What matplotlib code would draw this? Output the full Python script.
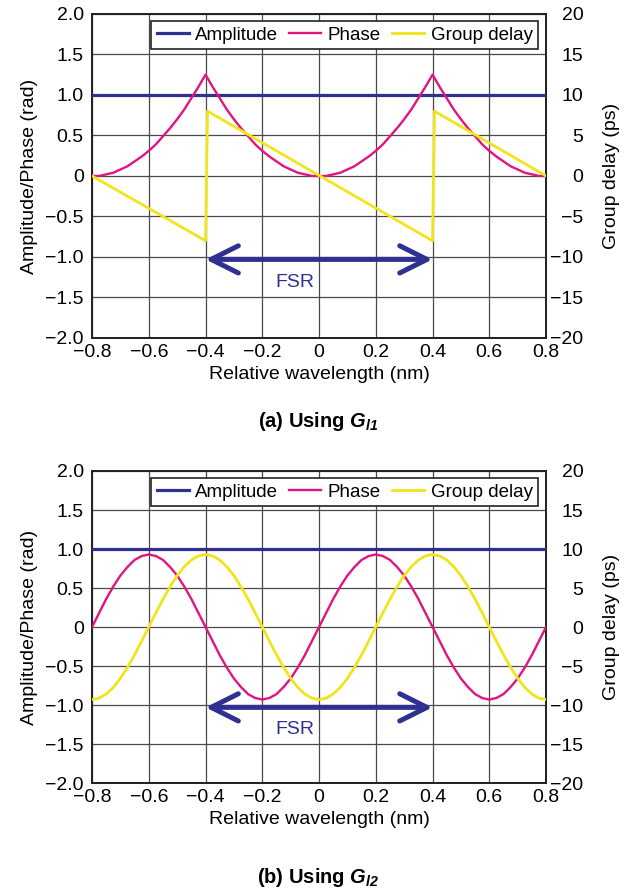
import matplotlib
matplotlib.use("Agg")
import matplotlib.pyplot as plt
import numpy as np

plt.rcParams['font.family'] = ['Liberation Sans', 'DejaVu Sans']
plt.rcParams['mathtext.fontset'] = 'custom'
plt.rcParams['mathtext.rm'] = 'Liberation Sans'
plt.rcParams['mathtext.it'] = 'Liberation Sans:italic'
plt.rcParams['mathtext.bf'] = 'Liberation Sans:bold'
plt.rcParams['mathtext.bfit'] = 'Liberation Sans:italic:bold'

# --- data ---
wavelength = np.linspace(-0.8, 0.8, 65)   # nm, sample grid (step 0.025)
amplitude = [1.0] * 65

# (a) quadratic phase, sawtooth group delay
phase_a = [0.00, 0.00, 0.02, 0.04, 0.08, 0.12, 0.18, 0.24, 0.31, 0.39, 0.49, 0.59, 0.70, 0.82, 0.96, 1.10, 1.25,
           1.10, 0.96, 0.82, 0.70, 0.59, 0.49, 0.39, 0.31, 0.24, 0.18, 0.12, 0.08, 0.04, 0.02, 0.00, 0.00,
           0.00, 0.02, 0.04, 0.08, 0.12, 0.18, 0.24, 0.31, 0.39, 0.49, 0.59, 0.70, 0.82, 0.96, 1.10, 1.25,
           1.10, 0.96, 0.82, 0.70, 0.59, 0.49, 0.39, 0.31, 0.24, 0.18, 0.12, 0.08, 0.04, 0.02, 0.00, 0.00]
gd_a_x = [-0.8, -0.4, -0.393, 0.4, 0.407, 0.8]
gd_a = [0.0, -8.0, 8.0, -8.0, 8.0, 0.0]   # ps

# (b) sinusoidal phase and group delay
phase_b = [0.00, 0.18, 0.36, 0.52, 0.66, 0.77, 0.86, 0.91, 0.93, 0.91, 0.86, 0.77, 0.66, 0.52, 0.36, 0.18,
           0.00, -0.18, -0.36, -0.52, -0.66, -0.77, -0.86, -0.91, -0.93, -0.91, -0.86, -0.77, -0.66, -0.52, -0.36, -0.18,
           0.00, 0.18, 0.36, 0.52, 0.66, 0.77, 0.86, 0.91, 0.93, 0.91, 0.86, 0.77, 0.66, 0.52, 0.36, 0.18,
           0.00, -0.18, -0.36, -0.52, -0.66, -0.77, -0.86, -0.91, -0.93, -0.91, -0.86, -0.77, -0.66, -0.52, -0.36, -0.18,
           0.00]
gd_b = [-9.30, -9.12, -8.59, -7.73, -6.58, -5.17, -3.56, -1.81, 0.00, 1.81, 3.56, 5.17, 6.58, 7.73, 8.59, 9.12,
        9.30, 9.12, 8.59, 7.73, 6.58, 5.17, 3.56, 1.81, 0.00, -1.81, -3.56, -5.17, -6.58, -7.73, -8.59, -9.12,
        -9.30, -9.12, -8.59, -7.73, -6.58, -5.17, -3.56, -1.81, 0.00, 1.81, 3.56, 5.17, 6.58, 7.73, 8.59, 9.12,
        9.30, 9.12, 8.59, 7.73, 6.58, 5.17, 3.56, 1.81, 0.00, -1.81, -3.56, -5.17, -6.58, -7.73, -8.59, -9.12,
        -9.30]

x_ticks = [-0.8, -0.6, -0.4, -0.2, 0, 0.2, 0.4, 0.6, 0.8]
x_labels = ['\u22120.8', '\u22120.6', '\u22120.4', '\u22120.2', '0', '0.2', '0.4', '0.6', '0.8']
yl_ticks = [-2.0, -1.5, -1.0, -0.5, 0, 0.5, 1.0, 1.5, 2.0]
yl_labels = ['\u22122.0', '\u22121.5', '\u22121.0', '\u22120.5', '0', '0.5', '1.0', '1.5', '2.0']
yr_ticks = [-20, -15, -10, -5, 0, 5, 10, 15, 20]
yr_labels = ['\u221220', '\u221215', '\u221210', '\u22125', '0', '5', '10', '15', '20']
fsr_span = [-0.4, 0.4]

NAVY = '#2e3192'
MAGENTA = '#e0157f'
YELLOW = '#f2e41a'
FS = 14


def draw_panel(ax, phase, gd_x, gd, caption, cap_y):
    ax.set_xlim(-0.8, 0.8)
    ax.set_ylim(-2.0, 2.0)
    ax.set_xticks(x_ticks)
    ax.set_xticklabels(x_labels)
    ax.set_yticks(yl_ticks)
    ax.set_yticklabels(yl_labels)
    ax.grid(True, color='#4a4a4a', lw=0.9)
    ax.set_axisbelow(True)
    ax.tick_params(axis='x', length=0, pad=4, labelsize=FS)
    ax.tick_params(axis='y', length=0, pad=6, labelsize=FS)
    for s in ax.spines.values():
        s.set_linewidth(1.3)
        s.set_color('#222222')

    ax2 = ax.twinx()
    ax2.set_ylim(-20, 20)
    ax2.set_yticks(yr_ticks)
    ax2.set_yticklabels(yr_labels, ha='right')
    ax2.tick_params(length=0, pad=27, labelsize=FS)
    for s in ax2.spines.values():
        s.set_linewidth(1.3)
        s.set_color('#222222')

    h1, = ax2.plot(wavelength, np.array(amplitude) * 10, color=NAVY, lw=2.3, label='Amplitude', zorder=3)
    h2, = ax2.plot(wavelength, np.array(phase) * 10, color=MAGENTA, lw=1.7, label='Phase', zorder=4)
    h3, = ax2.plot(gd_x, gd, color=YELLOW, lw=2.0, label='Group delay', zorder=5)

    ax.set_xlabel('Relative wavelength (nm)', fontsize=FS, labelpad=4)
    ax.set_ylabel('Amplitude/Phase (rad)', fontsize=FS, labelpad=5)
    ax2.set_ylabel('Group delay (ps)', fontsize=FS, labelpad=14)

    leg = ax2.legend(handles=[h1, h2, h3], ncol=3, loc='upper right',
                     bbox_to_anchor=(0.983, 0.978), fontsize=13.5, frameon=True,
                     fancybox=False, handlelength=1.7, handletextpad=0.35,
                     columnspacing=0.6, borderpad=0.3, borderaxespad=0)
    leg.get_frame().set_edgecolor('#222222')
    leg.get_frame().set_linewidth(1.2)
    leg.get_frame().set_alpha(1)

    ax2.annotate('', xy=(fsr_span[0], -10.3), xytext=(fsr_span[1], -10.3),
                 arrowprops=dict(arrowstyle='<->,head_length=1.4,head_width=0.7',
                                 lw=3.6, color=NAVY, shrinkA=0, shrinkB=0,
                                 mutation_scale=14), zorder=6)
    ax2.text(-0.085, -13.2, 'FSR', color=NAVY, fontsize=FS, ha='center', va='center')

    ax.figure.text(0.497, cap_y, caption, ha='center', va='center',
                   fontsize=14.5, fontweight='bold')


fig = plt.figure(figsize=(6.4, 8.88), dpi=100)
ax_a = fig.add_axes([0.1438, 0.6194, 0.7094, 0.3649])
ax_b = fig.add_axes([0.1438, 0.1182, 0.7094, 0.3514])

draw_panel(ax_a, phase_a, gd_a_x, gd_a, r'(a) Using $\mathbfit{G}_{\mathbfit{l1}}$', 0.525)
draw_panel(ax_b, phase_b, wavelength, gd_b, r'(b) Using $\mathbfit{G}_{\mathbfit{l2}}$', 0.012)

fig.savefig('out.png', dpi=100)
